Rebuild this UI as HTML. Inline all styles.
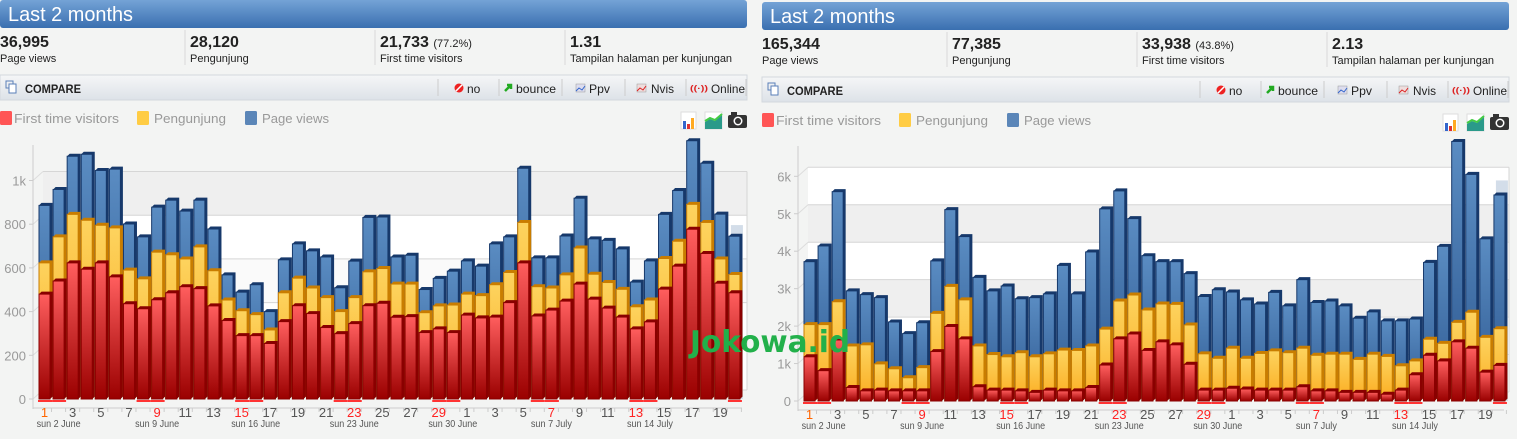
<!DOCTYPE html>
<html><head><meta charset="utf-8">
<style>
html,body{margin:0;padding:0;background:#f3f4f3;width:1517px;height:439px;overflow:hidden;font-family:"Liberation Sans",sans-serif}
svg{display:block}
</style></head>
<body>
<svg id="s" width="1517" height="439" xmlns="http://www.w3.org/2000/svg" font-family="Liberation Sans, sans-serif"></svg>
<script>
var L={b:[886,959,1111,1120,1046,1052,801,742,878,910,860,910,778,568,489,523,400,637,710,678,650,509,631,831,833,650,658,501,552,585,632,608,710,742,1056,646,646,746,919,733,726,687,535,632,845,954,1182,1079,846,745],
y:[623,742,845,818,795,783,590,550,672,660,641,696,587,453,404,386,316,486,553,508,464,400,464,582,597,526,526,395,426,430,480,473,523,579,808,514,508,568,691,571,533,502,422,453,643,722,891,808,641,570],
r:[480,540,623,594,623,559,436,413,454,486,514,505,426,359,290,290,254,354,427,391,327,299,345,427,438,374,377,304,321,304,384,371,375,441,623,380,407,448,526,457,416,375,321,353,503,608,777,666,530,486]};
var R={b:[3.72,4.14,5.59,2.94,2.84,2.76,2.11,1.80,2.09,3.74,5.11,4.39,3.30,2.94,3.07,2.73,2.76,2.86,3.62,2.86,3.98,5.13,5.61,4.87,3.88,3.72,3.72,3.40,2.79,2.97,2.91,2.70,2.59,2.90,2.54,3.24,2.63,2.67,2.54,2.21,2.38,2.14,2.14,2.19,3.70,4.13,6.93,6.05,4.33,5.50],
y:[2.04,2.04,2.65,1.47,1.50,0.99,0.86,0.62,0.89,2.34,3.06,2.70,1.47,1.24,1.18,1.29,1.18,1.26,1.36,1.35,1.47,1.92,2.67,2.83,2.43,2.59,2.58,2.03,1.26,1.14,1.41,1.14,1.27,1.34,1.29,1.41,1.22,1.25,1.25,1.11,1.25,1.19,0.94,1.07,1.65,1.54,2.10,2.37,1.70,1.93],
r:[1.18,0.81,1.63,0.36,0.27,0.29,0.27,0.27,0.27,1.32,1.99,1.66,0.38,0.29,0.29,0.27,0.23,0.29,0.27,0.27,0.36,0.96,1.66,1.79,1.35,1.58,1.50,0.98,0.29,0.29,0.34,0.32,0.29,0.29,0.29,0.38,0.27,0.27,0.23,0.23,0.23,0.18,0.29,0.70,1.22,1.07,1.58,1.41,0.77,0.95]};
var o='<defs>'+
'<linearGradient id="gb" x1="0" y1="0" x2="0" y2="1"><stop offset="0" stop-color="#5a8cc2"/><stop offset="1" stop-color="#2d5890"/></linearGradient>'+
'<linearGradient id="gy" x1="0" y1="0" x2="0" y2="1"><stop offset="0" stop-color="#fdd35e"/><stop offset="1" stop-color="#fbab1e"/></linearGradient>'+
'<linearGradient id="gr" x1="0" y1="0" x2="0" y2="1"><stop offset="0" stop-color="#ff5e5e"/><stop offset="1" stop-color="#9a0000"/></linearGradient>'+
'<linearGradient id="gh" x1="0" y1="0" x2="0" y2="1"><stop offset="0" stop-color="#74a3d6"/><stop offset="1" stop-color="#3a6fb0"/></linearGradient>'+
'<linearGradient id="gc" x1="0" y1="0" x2="0" y2="1"><stop offset="0" stop-color="#f5f6f7"/><stop offset="1" stop-color="#dde2e8"/></linearGradient>'+
'</defs>';
function T(x,y,t,a,tl){return '<text x="'+x+'" y="'+y+'" '+(a||'')+(tl?' textLength="'+tl+'" lengthAdjust="spacingAndGlyphs"':'')+'>'+t+'</text>';}
function panel(X,Y,stats,d,scale,ticks,base,ax,bx){
 o+='<rect x="'+X+'" y="'+Y+'" width="747" height="28" rx="3" fill="url(#gh)"/>';
 o+=T(X+8,Y+21,'Last 2 months','fill="#fff" font-size="20"',125);
 var sx=[0,190,380,570];
 for(var i=0;i<4;i++){
  var px=X+sx[i];
  if(i>0)o+='<line x1="'+(px-5)+'" y1="'+(Y+30)+'" x2="'+(px-5)+'" y2="'+(Y+65)+'" stroke="#d8d8d8"/>';
  o+=T(px,Y+47,stats[i][0],'font-size="16" font-weight="bold" fill="#222"');
  o+=T(px,Y+62,stats[i][1],'font-size="11" fill="#222"');
 }
 o+='<rect x="'+X+'" y="'+(Y+75)+'" width="747" height="25" fill="url(#gc)" stroke="#d3d8de"/>';
 o+='<rect x="'+(X+6)+'" y="'+(Y+81)+'" width="7" height="7" fill="none" stroke="#5a7fb8"/><rect x="'+(X+9)+'" y="'+(Y+84)+'" width="7" height="9" fill="#fff" stroke="#5a7fb8"/>';
 o+=T(X+25,Y+93,'COMPARE','font-size="12" font-weight="bold" fill="#222"',56);
 [438,499,562,625,686,746].forEach(function(s){o+='<line x1="'+(X+s)+'" y1="'+(Y+79)+'" x2="'+(X+s)+'" y2="'+(Y+96)+'" stroke="#ccc"/>';});
 o+='<circle cx="'+(X+459)+'" cy="'+(Y+88)+'" r="4.5" fill="#e22"/><line x1="'+(X+456)+'" y1="'+(Y+91)+'" x2="'+(X+462)+'" y2="'+(Y+85)+'" stroke="#fff" stroke-width="1.5"/>';
 o+=T(X+467,Y+93,'no','font-size="12" fill="#222"');
 o+='<path d="M'+(X+505)+' '+(Y+91)+' l6 -6 m-4 0 h4 v4" stroke="#2a2" stroke-width="2.5" fill="none"/>';
 o+=T(X+516,Y+93,'bounce','font-size="12" fill="#222"',40);
 o+='<rect x="'+(X+576)+'" y="'+(Y+84)+'" width="9" height="8" fill="#dde" stroke="#999" stroke-width=".5"/><path d="M'+(X+576)+' '+(Y+91)+' l3 -3 l3 2 l3 -4" stroke="#36c" fill="none"/>';
 o+=T(X+589,Y+93,'Ppv','font-size="12" fill="#222"',21);
 o+='<rect x="'+(X+637)+'" y="'+(Y+84)+'" width="9" height="8" fill="#edd" stroke="#999" stroke-width=".5"/><path d="M'+(X+637)+' '+(Y+91)+' l3 -3 l3 2 l3 -4" stroke="#d22" fill="none"/>';
 o+=T(X+651,Y+93,'Nvis','font-size="12" fill="#222"',23);
 o+=T(X+690,Y+91,'((·))','font-size="8" fill="#d22" font-weight="bold"',18);
 o+=T(X+711,Y+93,'Online','font-size="12" fill="#222"',34);
 var lg=[[0,14,'#f55','First time visitors',105],[137,154,'#fc4','Pengunjung',72],[245,262,'#5b86b8','Page views',67]];
 lg.forEach(function(l){o+='<rect x="'+(X+l[0])+'" y="'+(Y+111)+'" width="12" height="14" rx="1.5" fill="'+l[2]+'"/>'+T(X+l[1],Y+123,l[3],'font-size="13" fill="#999"',l[4]);});
 o+='<rect x="'+(X+681)+'" y="'+(Y+112)+'" width="15" height="17" fill="#fff" stroke="#ddd"/><rect x="'+(X+683)+'" y="'+(Y+121)+'" width="3" height="8" fill="#36c"/><rect x="'+(X+687)+'" y="'+(Y+124)+'" width="3" height="5" fill="#d33"/><rect x="'+(X+691)+'" y="'+(Y+118)+'" width="3" height="11" fill="#fa2"/>';
 o+='<rect x="'+(X+705)+'" y="'+(Y+112)+'" width="17" height="17" fill="#fff" stroke="#ddd"/><path d="M'+(X+705)+' '+(Y+129)+' v-7 l5 -3 l5 2 l7 -6 v14z" fill="#2a9a8a"/><path d="M'+(X+705)+' '+(Y+121)+' l5 -3 l5 2 l7 -6" stroke="#4c4" stroke-width="2" fill="none"/>';
 o+='<rect x="'+(X+728)+'" y="'+(Y+115)+'" width="19" height="13" rx="2" fill="#333"/><rect x="'+(X+731)+'" y="'+(Y+112)+'" width="6" height="4" fill="#333"/><circle cx="'+(X+738)+'" cy="'+(Y+121)+'" r="4.5" fill="#fff"/><circle cx="'+(X+738)+'" cy="'+(Y+121)+'" r="3" fill="#333"/>';
 var wl=ax+10, wr=X+747, top=ticks.topY;
 function yv(v){return base-v*scale;}
 ticks.bands.forEach(function(b){o+='<rect x="'+wl+'" y="'+(yv(b[1])-9)+'" width="'+(wr-wl)+'" height="'+(yv(b[0])-yv(b[1]))+'" fill="'+b[2]+'"/>';});
 ticks.grid.forEach(function(v){var yy=yv(v)-9;o+='<line x1="'+wl+'" y1="'+yy+'" x2="'+wr+'" y2="'+yy+'" stroke="#d6d6d6"/><line x1="'+ax+'" y1="'+yv(v)+'" x2="'+wl+'" y2="'+yy+'" stroke="#ddd"/>';});
 o+='<line x1="'+wr+'" y1="'+(yv(ticks.grid[ticks.grid.length-1])-9)+'" x2="'+wr+'" y2="'+(base-9)+'" stroke="#d6d6d6"/>';
 o+='<line x1="'+ax+'" y1="'+top+'" x2="'+ax+'" y2="'+(base+10)+'" stroke="#ccc"/>';
 o+='<line x1="'+ax+'" y1="'+(base+9)+'" x2="'+(X+742)+'" y2="'+(base+9)+'" stroke="#ccc"/>';
 ticks.lab.forEach(function(l){var yy=yv(l[0]);o+='<line x1="'+(ax-4)+'" y1="'+yy+'" x2="'+ax+'" y2="'+yy+'" stroke="#ccc"/>'+T(ax-7,yy+5,l[1],'font-size="13" fill="#999" text-anchor="end"');});
 var pitch=14.08,w=11;
 function bar(x,v,g,c){var yt=yv(v),h=base-yt;if(h<=0)return;
  o+='<path d="M'+x+' '+yt+' l2.5 -2.5 h'+w+' v'+h+' l-2.5 2.5z" fill="'+c+'"/>';
  o+='<rect x="'+x+'" y="'+yt+'" width="'+w+'" height="'+h+'" fill="url(#'+g+')" stroke="'+c+'" stroke-width="1"/>';}
 var wk=[1,2,8,9,15,16,22,23,29,30,36,37,43,44,50];
 var days=[];for(var i=1;i<=30;i++)days.push(i);for(i=1;i<=20;i++)days.push(i);
 var redL={0:1,8:1,14:1,22:1,28:1,36:1,42:1};
 for(i=0;i<50;i++){
  var x=bx+i*pitch;
  if(i==49){o+='<rect x="'+(x+2)+'" y="'+yv(ticks.proj)+'" width="'+(w+1)+'" height="'+(base-yv(ticks.proj))+'" fill="#c8d4e4" opacity=".8"/>';}
  bar(x,d.b[i],'gb','#17396b');bar(x,d.y[i],'gy','#c97d00');bar(x,d.r[i],'gr','#8a0000');
  if(wk.indexOf(i+1)>=0)o+='<rect x="'+(x-1)+'" y="'+(base+1)+'" width="'+(w+3)+'" height="2" fill="#f33"/>';
  o+='<line x1="'+(x+w/2+7)+'" y1="'+(base+9)+'" x2="'+(x+w/2+7)+'" y2="'+(base+13)+'" stroke="#ccc"/>';
  if(i%2==0)o+=T(x+w/2,base+18,days[i],'font-size="13" text-anchor="middle" fill="'+(i==0?'#f60':(redL[i]?'#f22':'#555'))+'"');
 }
 var wkl=[[1,'sun 2 June',44],[8,'sun 9 June',44],[15,'sun 16 June',49],[22,'sun 23 June',49],[29,'sun 30 June',49],[36,'sun 7 July',41],[43,'sun 14 July',46]];
 wkl.forEach(function(k){o+=T(bx+k[0]*pitch+w/2-k[2]/2,base+28,k[1],'font-size="10" fill="#555"',k[2]);});
}
var lb=[[0,800,'#fff'],[800,1000,'#efefef'],[400,600,'#fafafa']];
panel(0,0,[['36,995','Page views'],['28,120','Pengunjung'],['21,733 <tspan font-size="11" font-weight="normal">(77.2%)</tspan>','First time visitors'],['1.31','Tampilan halaman per kunjungan']],
 L,0.2185,{topY:145,bands:lb,grid:[0,200,400,600,800,1000],lab:[[0,'0'],[200,'200'],[400,'400'],[600,'600'],[800,'800'],[1000,'1k']],proj:796},399,33,39);
var rb=[[0,6,'#fff'],[4,5,'#efefef'],[2,3,'#efefef']];
panel(762,2,[['165,344','Page views'],['77,385','Pengunjung'],['33,938 <tspan font-size="11" font-weight="normal">(43.8%)</tspan>','First time visitors'],['2.13','Tampilan halaman per kunjungan']],
 R,37.45,{topY:146,bands:rb,grid:[0,1,2,3,4,5,6],lab:[[0,'0'],[1,'1k'],[2,'2k'],[3,'3k'],[4,'4k'],[5,'5k'],[6,'6k']],proj:5.89},401,798,804);
o+='<text x="690" y="352" font-size="30" font-weight="bold" fill="#22b04a" font-family="DejaVu Sans, sans-serif" textLength="160" lengthAdjust="spacingAndGlyphs">Jokowa.id</text>';
document.getElementById('s').innerHTML=o;
</script>
</body></html>
